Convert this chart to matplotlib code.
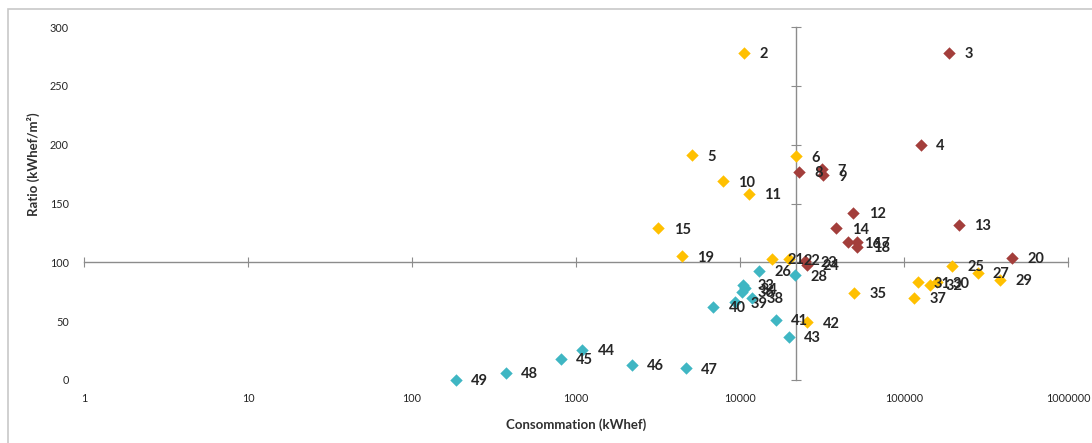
import matplotlib.pyplot as plt
from matplotlib.patches import Rectangle

# three groups of buildings: consumption (kWhef) vs ratio (kWhef/m2)
gold_ids = [2, 5, 6, 10, 11, 15, 19, 21, 22, 25, 27, 29, 30, 31, 32, 35, 37, 42]
gold_conso = [10600, 5100, 21900, 7900, 11350, 3180, 4430, 15700, 19800, 197000,
              281000, 385000, 159000, 122000, 144000, 49600, 115000, 25700]
gold_ratio = [278, 191, 190, 169, 158, 129, 105, 103, 102.5, 97, 91, 85,
              83, 83, 81, 74, 70, 49]

red_ids = [3, 4, 7, 8, 9, 12, 13, 14, 16, 17, 18, 20, 23, 24]
red_conso = [188000, 127000, 31500, 23000, 31900, 49100, 215000, 38700,
             45800, 51900, 51900, 457000, 25000, 25600]
red_ratio = [278, 200, 179, 177, 174, 142, 132, 129, 117, 117, 113, 104, 101, 98]

teal_ids = [26, 28, 33, 34, 36, 38, 39, 40, 41, 43, 44, 45, 46, 47, 48, 49]
teal_conso = [13100, 21700, 10400, 10700, 10300, 11800, 9330, 6870, 16500,
              19900, 1090, 810, 2190, 4670, 373, 185]
teal_ratio = [93, 89, 81, 78, 75, 70, 66, 62, 51, 36.5, 25.5, 18, 13, 10, 6, 0]

x_ticks = [1, 10, 100, 1000, 10000, 100000, 1000000]
y_ticks = [0, 50, 100, 150, 200, 250, 300]
x_cross = 22000
y_cross = 100

plt.rcParams['font.family'] = ['Lato', 'DejaVu Sans']

fig = plt.figure(figsize=(10.92, 4.43), dpi=100)
fig.patches.append(Rectangle((8 / 1092, -0.1), 1.2, 1 - 9 / 443 + 0.1,
                             transform=fig.transFigure, fill=False,
                             edgecolor='#c8c8c8', linewidth=1.2))

pos = [84 / 1092, 1 - 380 / 443, (1068 - 84) / 1092, (380 - 27) / 443]
ax = fig.add_axes(pos)
ax.set_xscale('log')
ax.set_xlim(1, 1000000)
ax.set_ylim(0, 300)
for s in ax.spines.values():
    s.set_visible(False)
ax.set_xticks(x_ticks)
ax.set_xticklabels([str(v) for v in x_ticks])
ax.minorticks_off()
ax.set_yticks(y_ticks)
ax.tick_params(length=0, labelsize=7.8, labelcolor='#262626')
ax.tick_params(axis='y', pad=11)
ax.tick_params(axis='x', pad=9)
ax.set_xlabel('Consommation (kWhef)', fontsize=9.5, fontweight='bold',
              color='#303030', labelpad=11)
ax.set_ylabel('Ratio (kWhef/m²)', fontsize=9.5, fontweight='bold',
              color='#303030', labelpad=10)
ax.yaxis.set_label_coords(-0.045, 0.61)

# crossing axes drawn on an overlay sharing the same scales
cross = fig.add_axes(pos, sharex=ax, sharey=ax, facecolor='none')
for side in ['top', 'right']:
    cross.spines[side].set_visible(False)
cross.spines['left'].set_position(('data', x_cross))
cross.spines['bottom'].set_position(('data', y_cross))
for side in ['left', 'bottom']:
    cross.spines[side].set_color('#8c8c8c')
    cross.spines[side].set_linewidth(1.0)
cross.tick_params(direction='inout', length=7, color='#8c8c8c',
                  labelleft=False, labelbottom=False)
cross.minorticks_off()
ax.set_zorder(2)
ax.patch.set_visible(False)

groups = [
    (gold_conso, gold_ratio, gold_ids, '#ffc000'),
    (red_conso, red_ratio, red_ids, '#a33e3b'),
    (teal_conso, teal_ratio, teal_ids, '#3fb6c3'),
]
for xs, ys, ids, col in groups:
    ax.scatter(xs, ys, marker='D', s=40, color=col, linewidths=0, zorder=3,
               clip_on=False)
    for x, y, n in zip(xs, ys, ids):
        ax.annotate(str(n), (x, y), xytext=(11, -1), textcoords='offset points',
                    va='center', ha='left', fontsize=10.5, fontweight='bold',
                    color='#262626', zorder=4)

fig.savefig('out.png', dpi=100)
